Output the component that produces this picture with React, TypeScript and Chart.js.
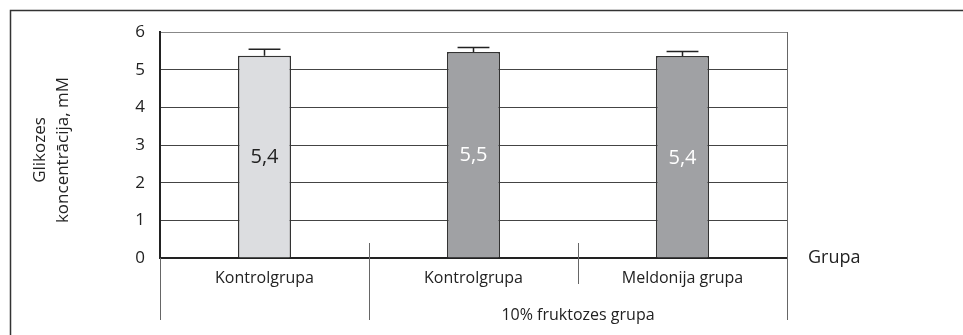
import { useEffect, useRef } from "react";
import { Chart, registerables } from "chart.js";

Chart.register(...registerables);

const categories = ["Kontrolgrupa", "Kontrolgrupa", "Meldonija grupa"];
const glucoseMeans = [5.37, 5.47, 5.36];
const glucoseErrors = [0.17, 0.12, 0.12];
const barColors = ["#dcdde0", "#a0a1a4", "#a0a1a4"];
const valueLabelColors = ["#222222", "#ffffff", "#ffffff"];
const yTickValues = [0, 1, 2, 3, 4, 5, 6];
const groupLabel = "10% fruktozes grupa";
const groupMembers = [1, 2];
const yTitleLines = ["Glikozes", "koncentrācija, mM"];
const xTitle = "Grupa";

const FONT = "'Open Sans', 'DejaVu Sans', sans-serif";
const TEXT = "#222222";

const fmt = (v: number) => v.toFixed(1).replace(".", ",");

const annotate = {
  id: "annotate",
  afterDraw(chart: any) {
    const ctx = chart.ctx as CanvasRenderingContext2D;
    const { left, right, top, bottom } = chart.chartArea;
    const xs = chart.scales.x;
    const ys = chart.scales.y;
    const meta = chart.getDatasetMeta(0);
    const catW = xs.width / categories.length;
    ctx.save();

    // outer frame (top and left)
    ctx.strokeStyle = "#333";
    ctx.lineWidth = 1.5;
    ctx.beginPath();
    ctx.moveTo(10.5, 335);
    ctx.lineTo(10.5, 10.5);
    ctx.lineTo(963, 10.5);
    ctx.stroke();

    // right plot border
    ctx.strokeStyle = "#666";
    ctx.lineWidth = 1;
    ctx.beginPath();
    ctx.moveTo(Math.round(right) + 0.5, top);
    ctx.lineTo(Math.round(right) + 0.5, bottom + 62);
    // left extension below axis
    ctx.moveTo(Math.round(left) + 0.5, bottom);
    ctx.lineTo(Math.round(left) + 0.5, bottom + 62);
    // separators
    for (let i = 0; i < categories.length - 1; i++) {
      const bx = Math.round(xs.getPixelForValue(i) + catW / 2) + 0.5;
      const inGroup = groupMembers.includes(i) && groupMembers.includes(i + 1);
      ctx.moveTo(bx, bottom - 15);
      ctx.lineTo(bx, bottom + (inGroup ? 26 : 62));
    }
    ctx.stroke();

    // error bars and value labels
    meta.data.forEach((bar: any, i: number) => {
      const p = bar.getProps(["x", "y", "base", "width"], true);
      const yTop = ys.getPixelForValue(glucoseMeans[i] + glucoseErrors[i]);
      ctx.strokeStyle = "#222";
      ctx.lineWidth = 1.5;
      ctx.beginPath();
      ctx.moveTo(p.x, p.y);
      ctx.lineTo(p.x, yTop);
      const cap = p.width * 0.3;
      ctx.moveTo(p.x - cap, yTop);
      ctx.lineTo(p.x + cap, yTop);
      ctx.stroke();

      ctx.fillStyle = valueLabelColors[i];
      ctx.font = `20px ${FONT}`;
      ctx.textAlign = "center";
      ctx.textBaseline = "middle";
      ctx.fillText(fmt(glucoseMeans[i]), p.x, (p.y + p.base) / 2 + 1);
    });

    // group label
    const g0 = xs.getPixelForValue(groupMembers[0]) - catW / 2;
    const g1 = xs.getPixelForValue(groupMembers[groupMembers.length - 1]) + catW / 2;
    ctx.fillStyle = TEXT;
    ctx.font = `16px ${FONT}`;
    ctx.textAlign = "center";
    ctx.textBaseline = "middle";
    ctx.fillText(groupLabel, (g0 + g1) / 2, bottom + 57);

    // x title
    ctx.font = `18px ${FONT}`;
    ctx.textAlign = "left";
    ctx.fillText(xTitle, right + 21, bottom);

    // y title
    ctx.font = `17px ${FONT}`;
    ctx.textAlign = "center";
    const cy = (top + bottom) / 2 + 5;
    ctx.translate(0, cy);
    ctx.rotate(-Math.PI / 2);
    ctx.fillText(yTitleLines[0], 0, 40);
    ctx.fillText(yTitleLines[1], 0, 63);
    ctx.restore();
  },
};

export default function App() {
  const ref = useRef<HTMLCanvasElement | null>(null);
  useEffect(() => {
    if (!ref.current) return;
    const chart = new Chart(ref.current, {
      type: "bar",
      data: {
        labels: categories,
        datasets: [
          {
            data: glucoseMeans,
            backgroundColor: barColors,
            borderColor: "#333",
            borderWidth: 1.5,
            barPercentage: 0.254,
            categoryPercentage: 1,
          },
        ],
      },
      options: {
        responsive: false,
        animation: false,
        devicePixelRatio: 1,
        layout: { padding: { left: 10, right: 176, top: 32, bottom: 0 } },
        plugins: {
          legend: { display: false },
          tooltip: { enabled: false },
          title: { display: false },
        },
        scales: {
          x: {
            afterFit: (s: any) => {
              s.height = 77;
            },
            grid: { display: false, drawTicks: false },
            border: { display: true, color: "#222", width: 2 },
            ticks: {
              color: TEXT,
              font: { family: FONT, size: 16 },
              padding: 11,
              maxRotation: 0,
              autoSkip: false,
            },
          },
          y: {
            min: 0,
            max: 6,
            afterFit: (s: any) => {
              s.width = 150;
            },
            afterBuildTicks: (s: any) => {
              s.ticks = yTickValues.map((v) => ({ value: v }));
            },
            grid: {
              drawTicks: false,
              color: (c: any) => (c.tick && c.tick.value === 6 ? "#888" : "#444"),
              lineWidth: 1,
            },
            border: { display: true, color: "#222", width: 2 },
            ticks: {
              color: TEXT,
              font: { family: FONT, size: 17 },
              padding: 15,
              stepSize: 1,
            },
          },
        },
      },
      plugins: [annotate],
    });
    return () => chart.destroy();
  }, []);
  return (
    <div style={{ position: "fixed", left: 0, top: 0, width: 963, height: 335, background: "#fff" }}>
      <canvas ref={ref} width={963} height={335} style={{ width: 963, height: 335, display: "block" }} />
    </div>
  );
}
